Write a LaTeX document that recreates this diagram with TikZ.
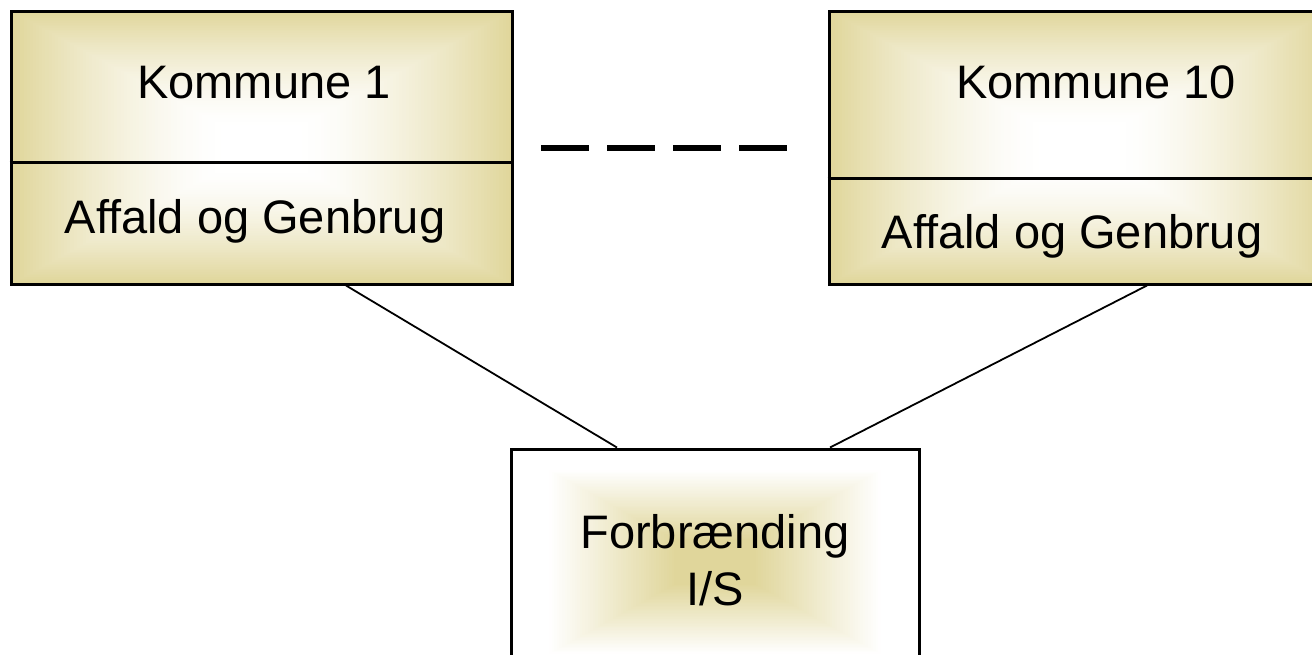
\documentclass[tikz,border=0pt]{standalone}
\usepackage{fontspec}
\setmainfont{Liberation Sans}
\definecolor{tanc}{RGB}{224,214,155}
\newcommand\mygradbox[5]{% cx cy hw hh mode(0: tan edge->white centre, 1: white edge->tan centre)
  \foreach \i in {0,...,79}{%
    \pgfmathsetmacro\s{1-\i/80}%
    \ifnum#5=0
      \pgfmathsetmacro\p{100*(max(0,1-(1-\s)/0.85))^1.5}%
    \else
      \pgfmathsetmacro\p{max(0,min(100,((1-\s)-0.18)/0.62*100))}%
    \fi
    \fill[tanc!\p!white] ({#1-#3*\s},{#2-#4*\s}) rectangle ({#1+#3*\s},{#2+#4*\s});
  }%
}
\tikzset{
  box/.style={draw=black, line width=3pt, rectangle, inner sep=0pt},
  lbl/.style={anchor=base, inner sep=0pt, font=\fontsize{47}{56}\selectfont},
  conn/.style={draw=black, line width=1.8pt},
  dashline/.style={draw=black, line width=6pt, dash pattern=on 48pt off 18pt}
}
\begin{document}
\begin{tikzpicture}[x=1pt,y=-1pt]
\useasboundingbox (0,0) rectangle (1312,654);
\begin{scope}
\clip (0,0) rectangle (1312,654);
% gradients
\mygradbox{261.5}{147.5}{250.5}{136.5}{0}
\mygradbox{1079.5}{147.5}{250.5}{136.5}{0}
\mygradbox{715}{562}{204}{113}{1}
% boxes
\node[box, minimum width=501pt, minimum height=273pt] (k1) at (261.5,147.5) {};
\node[box, minimum width=501pt, minimum height=273pt] (k10) at (1079.5,147.5) {};
\node[box, minimum width=408pt, minimum height=226pt] (fb) at (715,562) {};
\draw[line width=3pt] (k1.west |- {(0,162)}) -- (k1.east |- {(0,162)});
\draw[line width=3pt] (k10.west |- {(0,178)}) -- (k10.east |- {(0,178)});
\end{scope}
% texts
\node[lbl] (k1a) at (264,98) {Kommune 1};
\node[lbl] (k1b) at (255,233) {Affald og Genbrug};
\node[lbl] (k10a) at (1096,98) {Kommune 10};
\node[lbl] (k10b) at (1072,248) {Affald og Genbrug};
\node[lbl] (fba) at (715,548) {Forbrænding};
\node[lbl] (fbb) at (715,605) {I/S};
% connectors
\draw[conn] (k1.south -| {(346,0)}) -- (fb.north -| {(617,0)});
\draw[conn] (k10.south -| {(1147,0)}) -- (fb.north -| {(830,0)});
% dashes
\coordinate (d1) at (541,148);
\coordinate (d2) at (787,148);
\draw[dashline] (d1) -- (d2);
\end{tikzpicture}
\end{document}
